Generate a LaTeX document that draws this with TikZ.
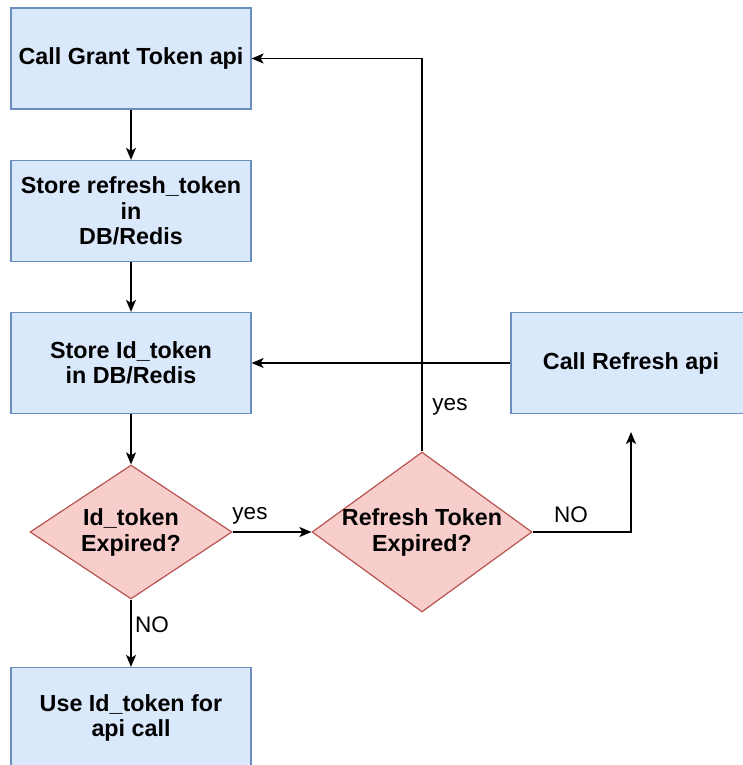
\documentclass[tikz,border=0pt]{standalone}
\usepackage{fontspec}
\setmainfont{Liberation Sans}
\usetikzlibrary{shapes.geometric,arrows.meta}

\definecolor{boxfill}{HTML}{DAE8FC}
\definecolor{boxline}{HTML}{6C8EBF}
\definecolor{decfill}{HTML}{F8CECC}
\definecolor{decline}{HTML}{B85450}

\tikzset{
  stepbox/.style={draw=boxline, fill=boxfill, line width=1.2pt,
    minimum width=240pt, minimum height=101pt, inner sep=0pt,
    align=center, font=\bfseries\fontsize{23.3}{25.5}\selectfont},
  decision/.style={diamond, draw=decline, fill=decfill, line width=1.2pt,
    inner sep=-20pt, align=center, font=\bfseries\fontsize{23.3}{26}\selectfont},
  flow/.style={line width=1.6pt, -{Stealth[length=12pt,width=10pt,inset=3pt]}},
  flowlabel/.style={font=\fontsize{22.5}{25}\selectfont, inner sep=0pt}
}

\begin{document}
\begin{tikzpicture}[x=1pt, y=-1pt]
  \useasboundingbox (0,0) rectangle (743,765);

  % process boxes
  \node[stepbox] (grant)   at (131,58.5) {Call Grant Token api};
  \node[stepbox] (storeref) at (131,211) {Store refresh\_token\\in\\DB/Redis};
  \node[stepbox] (storeid) at (131,363) {Store Id\_token\\in DB/Redis};
  \node[stepbox] (refresh) at (631,363) {Call Refresh api};
  \node[stepbox] (useid)   at (131,718) {Use Id\_token for\\api call};

  % decisions
  \node[decision, minimum width=202pt, minimum height=134pt, aspect=1.507]
    (idexp) at (131,532) {Id\_token\\Expired?};
  \node[decision, minimum width=220pt, minimum height=160pt, aspect=1.375]
    (refexp) at (422,532) {Refresh Token\\Expired?};

  \coordinate (noend) at (631,432);

  % connectors
  \draw[flow] (grant) -- (storeref);
  \draw[flow] (storeref) -- (storeid);
  \draw[flow] (storeid) -- (idexp);
  \draw[flow] (idexp.east) -- (refexp.west);
  \draw[flow] (idexp.south) -- (useid.north);
  \draw[flow] (refexp.north) |- (grant.east);
  \draw[flow] (refexp.east) -| (noend);
  \draw[flow] (refresh.west) -- (storeid.east);

  % branch labels
  \node[flowlabel] (lyes1) at (250,516) {yes};
  \node[flowlabel] (lno1)  at (152,625) {NO};
  \node[flowlabel] (lyes2) at (450,407) {yes};
  \node[flowlabel] (lno2)  at (571,515) {NO};
\end{tikzpicture}
\end{document}
